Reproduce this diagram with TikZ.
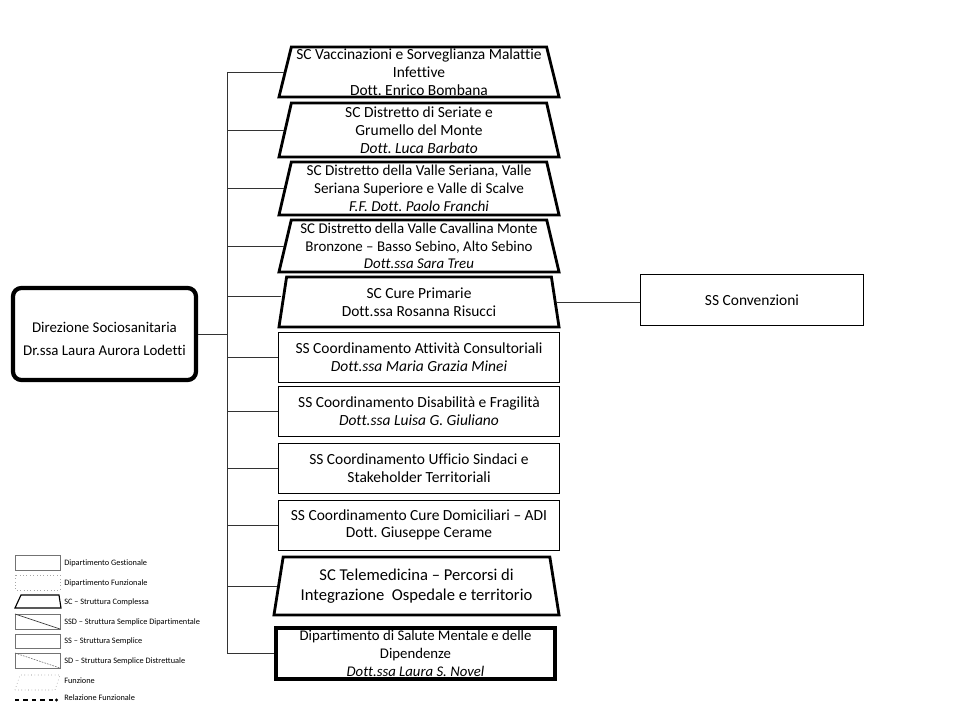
\documentclass[tikz,border=0pt]{standalone}
\usepackage{fontspec}
\setmainfont{Carlito}[Ligatures=CommonOff]
\frenchspacing
\usetikzlibrary{shapes.geometric,arrows.meta}

\begin{document}
\begin{tikzpicture}[x=0.025cm,y=-0.025cm,
  every node/.style={font=\fontsize{11}{12.6}\selectfont,align=center,inner sep=0pt},
  sc/.style={draw,trapezium,trapezium left angle=75,trapezium right angle=75,
    trapezium stretches body,minimum width=7cm,line width=2pt},
  ss/.style={draw,rectangle,minimum width=7cm,line width=0.7pt},
  link/.style={line width=0.7pt,black!80},
  legbox/.style={draw,black!55,line width=0.4pt},
  leglabel/.style={anchor=west,font=\fontsize{5.9}{6}\selectfont}]
  \useasboundingbox (0,0) rectangle (960,720);
  % direzione
  \node (dir) at (104.5,334) [draw,rounded corners=6pt,line width=3pt,
    minimum width=4.575cm,minimum height=2.3cm] {};
  \node (dirtext) at ([yshift=-3.5pt]dir.center) [font=\fontsize{10.6}{17}\selectfont]
    {Direzione Sociosanitaria\\Dr.ssa Laura Aurora Lodetti};
  % strutture
  \node (vacc) at (419,72) [sc,minimum height=1.25cm]
    {SC Vaccinazioni e Sorveglianza Malattie\\Infettive\\Dott. Enrico Bombana};
  \node (seriate) at (419,130) [sc,minimum height=1.35cm]
    {SC Distretto di Seriate e\\Grumello del Monte\\\textit{Dott. Luca Barbato}};
  \node (seriana) at (419,188.5) [sc,minimum height=1.325cm,font=\fontsize{10.8}{12.6}\selectfont]
    {SC Distretto della Valle Seriana, Valle\\Seriana Superiore e Valle di Scalve\\\textit{F.F. Dott. Paolo Franchi}};
  \node (cavallina) at (419,246) [sc,minimum height=1.3cm,font=\fontsize{10.6}{12.6}\selectfont]
    {SC Distretto della Valle Cavallina Monte\\Bronzone – Basso Sebino, Alto Sebino\\\textit{Dott.ssa Sara Treu}};
  \node (cure) at (419,302) [sc,minimum height=1.25cm]
    {SC Cure Primarie\\Dott.ssa Rosanna Risucci};
  \node (consult) at (419,357.5) [ss,minimum height=1.225cm]
    {SS Coordinamento Attività Consultoriali\\\textit{Dott.ssa Maria Grazia Minei}};
  \node (disab) at (419,411.5) [ss,minimum height=1.225cm]
    {SS Coordinamento Disabilità e Fragilità\\\textit{Dott.ssa Luisa G. Giuliano}};
  \node (sindaci) at (419,468.5) [ss,minimum height=1.225cm]
    {SS Coordinamento Ufficio Sindaci e\\Stakeholder Territoriali};
  \node (adi) at (419,525) [ss,minimum height=1.25cm]
    {SS Coordinamento Cure Domiciliari – ADI\\Dott. Giuseppe Cerame};
  \node (tele) at (416.5,586) [sc,minimum width=7.125cm,minimum height=1.45cm,
    font=\fontsize{11.8}{14.2}\selectfont]
    {SC Telemedicina – Percorsi di\\Integrazione\ \ Ospedale e territorio};
  \node (dsm) at (415.5,653.5) [draw,line width=2.5pt,minimum width=6.975cm,minimum height=1.275cm,
    font=\fontsize{10.5}{12.6}\selectfont]
    {Dipartimento di Salute Mentale e delle\\Dipendenze\\\textit{Dott.ssa Laura S. Novel}};
  \node (conv) at (752,300) [ss,minimum width=5.55cm,minimum height=1.25cm] {SS Convenzioni};
  % collegamenti
  \coordinate (spine) at (227,0);
  \coordinate (curein) at ([yshift=4pt]cure.west);
  \draw[link] (spine |- vacc.west) -- (spine |- dsm.west);
  \draw[link] (dir.east) -- (spine |- dir.east);
  \draw[link] (vacc.west) -- (spine |- vacc.west);
  \draw[link] (seriate.west) -- (spine |- seriate.west);
  \draw[link] (seriana.west) -- (spine |- seriana.west);
  \draw[link] (cavallina.west) -- (spine |- cavallina.west);
  \draw[link] (curein) -- (spine |- curein);
  \draw[link] (consult.west) -- (spine |- consult.west);
  \draw[link] (disab.west) -- (spine |- disab.west);
  \draw[link] (sindaci.west) -- (spine |- sindaci.west);
  \draw[link] (adi.west) -- (spine |- adi.west);
  \draw[link] (tele.west) -- (spine |- tele.west);
  \draw[link] (dsm.west) -- (spine |- dsm.west);
  \draw[link] (cure.east) -- (cure.east -| conv.west);
  % legenda
  \draw[legbox] (15,555) rectangle (60,570);
  \node[leglabel] (lgest) at (64,563) {Dipartimento Gestionale};
  \draw[legbox,dotted,black!35] (15,575) rectangle (60,590);
  \node[leglabel] (lfunz) at (64,583) {Dipartimento Funzionale};
  \draw[line width=0.8pt] (15,608) -- (21,595) -- (59,595) -- (61,608) -- cycle;
  \node[leglabel] (lsc) at (64,602) {SC – Struttura Complessa};
  \draw[legbox] (15,614) rectangle (60,629);
  \draw[black!75,line width=0.5pt] (15,614) -- (60,629);
  \node[leglabel] (lssd) at (64,622) {SSD – Struttura Semplice Dipartimentale};
  \draw[legbox] (15,634) rectangle (60,648);
  \node[leglabel] (lss) at (64,641) {SS – Struttura Semplice};
  \draw[legbox] (15,653) rectangle (60,668);
  \draw[black!60,dash pattern=on 1.2pt off 0.8pt,line width=0.4pt] (15,653) -- (60,668);
  \node[leglabel] (lsd) at (64,661) {SD – Struttura Semplice Distrettuale};
  \draw[black!50,dotted,line width=0.4pt] (15,690) -- (20,675) -- (60,675) -- (55,690) -- cycle;
  \node[leglabel] (lfun) at (64,681) {Funzione};
  \draw[dashed,line width=0.8pt,-{Circle[length=2pt]}] (15,700) -- (58,700);
  \node[leglabel] (lrel) at (64,698) {Relazione Funzionale};
\end{tikzpicture}
\end{document}
